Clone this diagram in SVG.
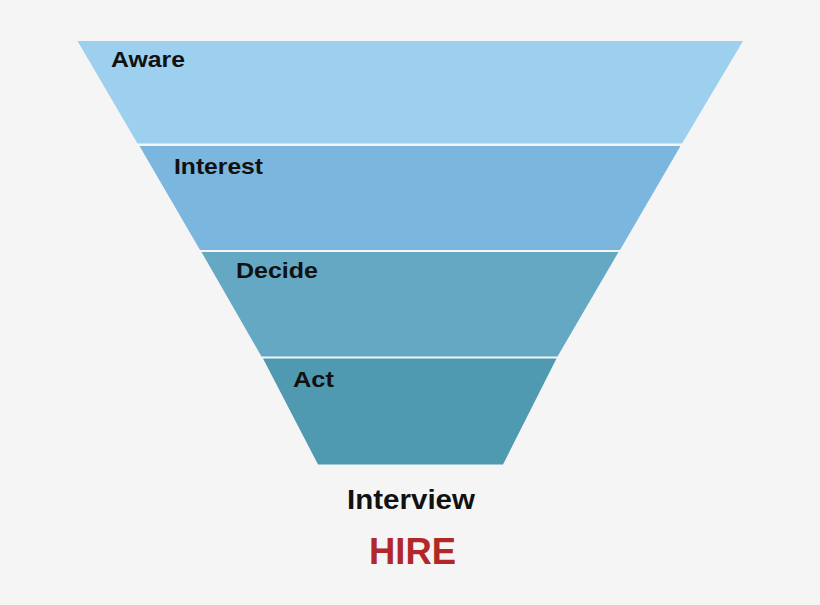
<svg xmlns="http://www.w3.org/2000/svg" width="820" height="605" viewBox="0 0 820 605">
<style>
.band{stroke:none}
.lbl{font-family:"Liberation Sans",Arial,sans-serif;font-weight:bold;font-size:22px;fill:#111}
.out{font-family:"Liberation Sans",Arial,sans-serif;font-weight:bold;fill:#111}
</style>
<rect width="820" height="605" fill="#f5f5f5"/>
<g id="aware">
<polygon class="band" points="77.5,41 743,41 682,143.5 137.5,143.5" fill="#9dcfee"/>
<text class="lbl" x="111" y="67" textLength="74" lengthAdjust="spacingAndGlyphs">Aware</text>
</g>
<g id="interest">
<polygon class="band" points="139.5,146 680.5,146 620,250 200,250" fill="#7ab6dd"/>
<text class="lbl" x="174" y="174" textLength="89" lengthAdjust="spacingAndGlyphs">Interest</text>
</g>
<g id="decide">
<polygon class="band" points="201.5,252 618.5,252 557.5,356.5 261.5,356.5" fill="#64a8c3"/>
<text class="lbl" x="236" y="278" textLength="82" lengthAdjust="spacingAndGlyphs">Decide</text>
</g>
<g id="act">
<polygon class="band" points="263,358.5 556.5,358.5 503,464.5 318,464.5" fill="#4f9ab1"/>
<text class="lbl" x="293" y="387" textLength="41" lengthAdjust="spacingAndGlyphs">Act</text>
</g>
<g id="interview">
<text class="out" x="347" y="509" font-size="27" textLength="128" lengthAdjust="spacingAndGlyphs">Interview</text>
</g>
<g id="hire">
<text class="out" x="369" y="564" font-size="36" fill="#b2282a" textLength="87" lengthAdjust="spacingAndGlyphs" style="fill:#b2282a">HIRE</text>
</g>
<g id="connectors"/>
</svg>
